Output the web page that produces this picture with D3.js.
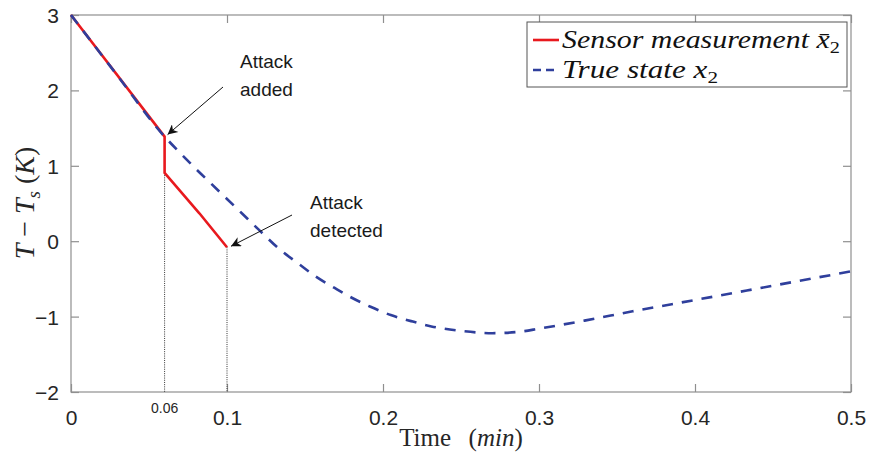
<!DOCTYPE html>
<html>
<head>
<meta charset="utf-8">
<script src="https://cdn.jsdelivr.net/npm/d3@7"></script>
<style>
  html, body { margin: 0; padding: 0; background: #fff; }
  svg { display: block; }
  .tick text { font-family: "Liberation Sans", Arial, sans-serif; }
</style>
</head>
<body>
<svg id="chart" width="872" height="462"></svg>
<script>
// Time (min) and temperature deviation T - Ts (K)
const trueTime  = [0, 0.03, 0.06, 0.07, 0.08, 0.09, 0.1, 0.11, 0.12, 0.135, 0.146, 0.157, 0.169, 0.18, 0.192, 0.205, 0.218, 0.231, 0.25, 0.27, 0.288, 0.3, 0.33, 0.36, 0.4, 0.45, 0.5];
const trueState = [3.0, 2.19, 1.387, 1.17, 0.96, 0.76, 0.56, 0.36, 0.16, -0.13, -0.3, -0.47, -0.62, -0.75, -0.87, -0.98, -1.06, -1.13, -1.19, -1.22, -1.2, -1.16, -1.05, -0.93, -0.78, -0.59, -0.4];

const sensorTime  = [0, 0.06, 0.06, 0.0823, 0.1];
const sensorValue = [3.0, 1.387, 0.905, 0.37, -0.08];

const xTicks = [0, 0.1, 0.2, 0.3, 0.4, 0.5];
const yTicks = [-2, -1, 0, 1, 2, 3];
const markTimes = [0.06, 0.1];

const svg = d3.select("#chart");
const L = 71, R = 851, T = 15, B = 392;

const x = d3.scaleLinear().domain([0, 0.5]).range([L, R]);
const y = d3.scaleLinear().domain([-2, 3]).range([B, T]);

const axisColor = "#8f8f8f";
const textColor = "#262626";
const tickLen = 8;

// frame
svg.append("rect")
  .attr("x", L).attr("y", T).attr("width", R - L).attr("height", B - T)
  .attr("fill", "none").attr("stroke", axisColor).attr("stroke-width", 1.2);

// axes with inward ticks (bottom/left labelled, top/right tick marks only)
const gx = svg.append("g").attr("transform", `translate(0,${B})`)
  .call(d3.axisBottom(x).tickValues(xTicks).tickSizeInner(-tickLen).tickSizeOuter(0)
    .tickPadding(tickLen + 10).tickFormat(d => d === 0 ? "0" : d3.format(".1f")(d)));
const gxt = svg.append("g").attr("transform", `translate(0,${T})`)
  .call(d3.axisTop(x).tickValues(xTicks).tickSizeInner(-tickLen).tickSizeOuter(0).tickFormat(""));
const gy = svg.append("g").attr("transform", `translate(${L},0)`)
  .call(d3.axisLeft(y).tickValues(yTicks).tickSizeInner(-tickLen).tickSizeOuter(0)
    .tickPadding(tickLen + 4).tickFormat(d3.format("d")));
const gyr = svg.append("g").attr("transform", `translate(${R},0)`)
  .call(d3.axisRight(y).tickValues(yTicks).tickSizeInner(-tickLen).tickSizeOuter(0).tickFormat(""));

[gx, gxt, gy, gyr].forEach(g => {
  g.select(".domain").remove();
  g.selectAll(".tick line").attr("stroke", axisColor).attr("stroke-width", 1.2);
  g.selectAll(".tick text").attr("fill", textColor).attr("font-size", 21);
});
gy.selectAll(".tick text").attr("dy", "0.36em");

// dotted markers at attack / detection times
const markValues = [sensorValue[2], sensorValue[4]];
svg.append("g").selectAll("line").data(markTimes).join("line")
  .attr("x1", d => x(d)).attr("x2", d => x(d))
  .attr("y1", (d, i) => y(markValues[i])).attr("y2", B)
  .attr("stroke", "#333").attr("stroke-width", 1).attr("stroke-dasharray", "1,1.2");

svg.append("text").attr("x", x(0.06)).attr("y", 413)
  .attr("text-anchor", "middle").attr("fill", textColor)
  .attr("font-family", "Liberation Sans, Arial, sans-serif").attr("font-size", 14)
  .text("0.06");

// data lines
const line = d3.line().x(d => x(d[0])).y(d => y(d[1]));
const trueLine = d3.line().x(d => x(d[0])).y(d => y(d[1])).curve(d3.curveMonotoneX);

svg.append("path")
  .datum(d3.zip(sensorTime, sensorValue))
  .attr("d", line).attr("fill", "none")
  .attr("stroke", "#e8191e").attr("stroke-width", 2.6).attr("stroke-linejoin", "round");

svg.append("path")
  .datum(d3.zip(trueTime, trueState))
  .attr("d", trueLine).attr("fill", "none")
  .attr("stroke", "#2f3f9c").attr("stroke-width", 2.6).attr("stroke-dasharray", "11,9");

// annotations
const defs = svg.append("defs");
defs.append("marker").attr("id", "arrow").attr("viewBox", "0 0 10 10")
  .attr("refX", 10).attr("refY", 5).attr("markerWidth", 12).attr("markerHeight", 10)
  .attr("markerUnits", "userSpaceOnUse").attr("orient", "auto")
  .append("path").attr("d", "M0,0 L10,5 L0,10 L3,5 Z").attr("fill", "#111");

const annFont = "Liberation Sans, Arial, sans-serif";
function annotate(lines, tx, ty, from, to) {
  const t = svg.append("text").attr("font-family", annFont).attr("font-size", 19)
    .attr("fill", "#1a1a1a");
  lines.forEach((s, i) => t.append("tspan").attr("x", tx).attr("y", ty + i * 28).text(s));
  svg.append("line")
    .attr("x1", from[0]).attr("y1", from[1]).attr("x2", to[0]).attr("y2", to[1])
    .attr("stroke", "#111").attr("stroke-width", 1).attr("marker-end", "url(#arrow)");
}
annotate(["Attack", "added"], 240, 68, [223, 87], [x(0.06) + 3, y(sensorValue[1]) - 2]);
annotate(["Attack", "detected"], 310, 209, [292, 215], [x(0.1) + 4, y(sensorValue[4]) - 1]);

// axis labels
const serif = "'Liberation Serif', 'DejaVu Serif', 'Times New Roman', serif";
const xl = svg.append("text").attr("x", 461).attr("y", 446).attr("text-anchor", "middle")
  .attr("font-family", serif).attr("font-size", 25).attr("fill", textColor);
xl.append("tspan").text("Time\u2002\u2009(");
xl.append("tspan").attr("font-style", "italic").text("min");
xl.append("tspan").text(")");

const yl = svg.append("text").attr("transform", "translate(34,203) rotate(-90)")
  .attr("text-anchor", "middle").attr("font-family", serif).attr("font-size", 28).attr("fill", textColor);
yl.append("tspan").attr("font-style", "italic").text("T");
yl.append("tspan").text(" \u2212 ");
yl.append("tspan").attr("font-style", "italic").text("T");
yl.append("tspan").attr("font-style", "italic").attr("font-size", 19).attr("dy", 6).text("s");
yl.append("tspan").attr("dy", -6).text(" (");
yl.append("tspan").attr("font-style", "italic").text("K");
yl.append("tspan").text(")");

// legend
const lg = svg.append("g");
lg.append("rect").attr("x", 527).attr("y", 22).attr("width", 320).attr("height", 65)
  .attr("fill", "#fff").attr("stroke", "#555").attr("stroke-width", 1);
const legendItems = [
  { label: "Sensor measurement ", sub: "2", bar: true, color: "#e8191e", dash: null, y: 40, width: 278 },
  { label: "True state ", sub: "2", bar: false, color: "#2f3f9c", dash: "8,5", y: 70, width: 156 }
];
legendItems.forEach(it => {
  lg.append("line").attr("x1", 533).attr("x2", 559).attr("y1", it.y).attr("y2", it.y)
    .attr("stroke", it.color).attr("stroke-width", 2.6)
    .attr("stroke-dasharray", it.dash);
  const t = lg.append("text").attr("x", 562).attr("y", it.y + 8)
    .attr("font-family", serif).attr("font-style", "italic").attr("font-size", 25).attr("fill", "#111")
    .attr("textLength", it.width).attr("lengthAdjust", "spacingAndGlyphs");
  t.append("tspan").text(it.label);
  t.append("tspan").text(it.bar ? "x\u0304" : "x");
  t.append("tspan").attr("font-style", "normal").attr("font-size", 17).attr("dy", 5).text(it.sub);
});
</script>
</body>
</html>
